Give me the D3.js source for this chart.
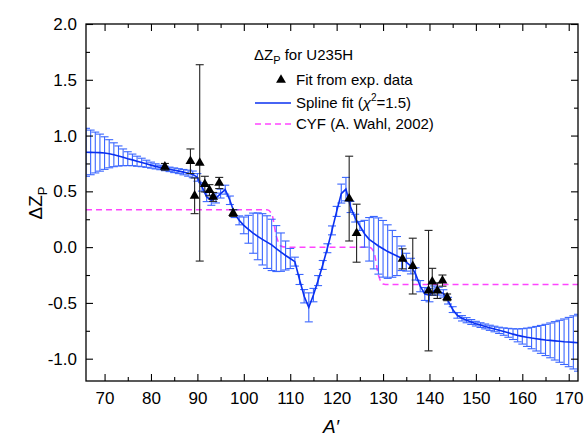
<!DOCTYPE html>
<html><head><meta charset="utf-8">
<script src="https://cdn.jsdelivr.net/npm/d3@7"></script>
<style>body{margin:0;background:#fff}svg{display:block;font-family:Arial,"Liberation Sans",sans-serif}</style>
</head><body><svg id="c" width="586" height="439"></svg>
<script>
// Spline fit (evaluated at integer A')
const splineA = d3.range(66, 173);
const splineVal = [
 0.850,0.849,0.848,0.847,0.843,0.837,0.828,0.817,0.805,0.793,
 0.782,0.770,0.759,0.747,0.735,0.724,0.714,0.705,0.697,0.689,
 0.681,0.672,0.663,0.652,0.625,0.540,0.450,0.420,0.440,0.480,
 0.515,0.420,0.300,0.240,0.195,0.160,0.125,0.097,0.070,0.045,
 0.020,-0.013,-0.045,-0.075,-0.102,-0.130,-0.290,-0.440,-0.540,-0.430,
 -0.300,-0.160,-0.010,0.150,0.320,0.480,0.520,0.360,0.260,0.190,
 0.120,0.070,0.040,0.010,-0.015,-0.040,-0.060,-0.080,-0.100,-0.135,
 -0.170,-0.240,-0.350,-0.420,-0.430,-0.390,-0.395,-0.415,-0.480,-0.560,
 -0.612,-0.638,-0.655,-0.671,-0.686,-0.699,-0.711,-0.723,-0.734,-0.746,
 -0.757,-0.768,-0.780,-0.791,-0.800,-0.808,-0.815,-0.821,-0.827,-0.832,
 -0.836,-0.840,-0.844,-0.848,-0.851,-0.854,-0.857
];
const splineErr = [
 0.215,0.200,0.183,0.166,0.146,0.126,0.107,0.090,0.075,0.062,
 0.052,0.045,0.038,0.032,0.027,0.023,0.020,0.020,0.020,0.021,
 0.022,0.024,0.027,0.030,0.034,0.038,0.042,0.045,0.044,0.040,
 0.040,0.038,0.035,0.040,0.075,0.125,0.180,0.210,0.230,0.236,
 0.230,0.206,0.172,0.130,0.090,0.040,0.045,0.060,0.130,0.060,
 0.045,0.040,0.040,0.040,0.045,0.085,0.105,0.050,0.035,0.040,
 0.120,0.195,0.235,0.252,0.254,0.240,0.210,0.175,0.110,0.080,
 0.070,0.055,0.050,0.058,0.060,0.042,0.035,0.033,0.030,0.026,
 0.025,0.024,0.023,0.022,0.021,0.021,0.022,0.023,0.025,0.028,
 0.033,0.040,0.048,0.058,0.069,0.082,0.096,0.110,0.125,0.140,
 0.156,0.172,0.188,0.204,0.221,0.238,0.255
];
// Fit from experimental data
const expA   = [83.0, 88.5, 89.4, 90.5, 91.6, 92.6, 93.4, 94.7, 97.7, 122.7, 124.3, 134.2, 136.4, 139.8, 140.6, 141.7, 142.8, 143.8];
const expVal = [0.72, 0.77, 0.46, 0.755, 0.565, 0.51, 0.45, 0.575, 0.305, 0.435, 0.125, -0.105, -0.17, -0.39, -0.31, -0.39, -0.30, -0.45];
const expErr = [0.03, 0.11, 0.16, 0.88, 0.07, 0.05, 0.04, 0.05, 0.03, 0.38, 0.26, 0.09, 0.25, 0.54, 0.12, 0.07, 0.05, 0.03];
// CYF (A. Wahl, 2002)
const cyfA   = [66, 105, 106, 107, 108, 109, 127, 128, 129, 130, 131, 172];
const cyfVal = [0.335, 0.335, 0.30, 0.10, 0.01, 0.0, 0.0, -0.04, -0.25, -0.33, -0.335, -0.335];

const xTicks = [70, 80, 90, 100, 110, 120, 130, 140, 150, 160, 170];
const xMinor = [75, 85, 95, 105, 115, 125, 135, 145, 155, 165];
const yTicks = [-1.0, -0.5, 0.0, 0.5, 1.0, 1.5, 2.0];
const yMinor = [-0.75, -0.25, 0.25, 0.75, 1.25, 1.75];

const svg = d3.select("#c");
const L = 86, R = 578, T = 24, B = 381;
const x = d3.scaleLinear().domain([66, 172]).range([L, R]);
const y = d3.scaleLinear().domain([-1.2, 2.0]).range([B, T]);

const BLUE = "#0a30f0", BAR = "#3a66ff", PINK = "#ff44ff";

svg.append("defs").append("clipPath").attr("id", "clip")
  .append("rect").attr("x", L).attr("y", T).attr("width", R - L).attr("height", B - T);
const plot = svg.append("g").attr("clip-path", "url(#clip)");

// CYF dashed
plot.append("path")
  .datum(cyfA.map((a, i) => [a, cyfVal[i]]))
  .attr("fill", "none").attr("stroke", PINK).attr("stroke-width", 1.5)
  .attr("stroke-dasharray", "6,4")
  .attr("d", d3.line().x(d => x(d[0])).y(d => y(d[1])).curve(d3.curveMonotoneX));

// spline error bars
const sp = splineA.map((a, i) => ({a, v: splineVal[i], e: splineErr[i]}));
const cap = 4;
const sb = plot.append("g").attr("stroke", BAR).attr("stroke-width", 1.1);
sp.forEach(d => {
  const xx = x(d.a), y1 = y(d.v + d.e), y2 = y(d.v - d.e);
  sb.append("line").attr("x1", xx).attr("x2", xx).attr("y1", y1).attr("y2", y2);
  sb.append("line").attr("x1", xx - cap).attr("x2", xx + cap).attr("y1", y1).attr("y2", y1);
  sb.append("line").attr("x1", xx - cap).attr("x2", xx + cap).attr("y1", y2).attr("y2", y2);
});
// spline line
plot.append("path").datum(sp)
  .attr("fill", "none").attr("stroke", BLUE).attr("stroke-width", 1.6)
  .attr("d", d3.line().x(d => x(d.a)).y(d => y(d.v)));

// experimental error bars + triangles
const ex = expA.map((a, i) => ({a, v: expVal[i], e: expErr[i]}));
const eb = plot.append("g").attr("stroke", "#222").attr("stroke-width", 1.1);
ex.forEach(d => {
  const xx = x(d.a), y1 = y(d.v + d.e), y2 = y(d.v - d.e);
  eb.append("line").attr("x1", xx).attr("x2", xx).attr("y1", y1).attr("y2", y2);
  eb.append("line").attr("x1", xx - 4).attr("x2", xx + 4).attr("y1", y1).attr("y2", y1);
  eb.append("line").attr("x1", xx - 4).attr("x2", xx + 4).attr("y1", y2).attr("y2", y2);
});
const tri = d3.symbol().type(d3.symbolTriangle).size(42);
plot.append("g").selectAll("path").data(ex).join("path")
  .attr("d", tri).attr("fill", "#000")
  .attr("transform", d => `translate(${x(d.a)},${y(d.v)})`);

// axes
const fmt = d => d.toFixed(1);
function styleAxis(g) {
  g.select(".domain").remove();
  g.selectAll("line").attr("stroke", "#000").attr("stroke-width", 1.1);
  g.selectAll("text").attr("fill", "#000").attr("font-size", 17)
   .attr("font-family", "Arial, 'Liberation Sans', sans-serif");
}
svg.append("g").attr("transform", `translate(0,${B})`)
  .call(d3.axisBottom(x).tickValues(xTicks).tickSize(-7).tickPadding(11).tickFormat(d3.format("d")))
  .call(styleAxis);
svg.append("g").attr("transform", `translate(0,${B})`)
  .call(d3.axisBottom(x).tickValues(xMinor).tickSize(-4).tickFormat("")).call(styleAxis);
svg.append("g").attr("transform", `translate(0,${T})`)
  .call(d3.axisTop(x).tickValues(xTicks).tickSize(-7).tickFormat("")).call(styleAxis);
svg.append("g").attr("transform", `translate(0,${T})`)
  .call(d3.axisTop(x).tickValues(xMinor).tickSize(-4).tickFormat("")).call(styleAxis);
svg.append("g").attr("transform", `translate(${L},0)`)
  .call(d3.axisLeft(y).tickValues(yTicks).tickSize(-7).tickPadding(9).tickFormat(fmt))
  .call(styleAxis);
svg.append("g").attr("transform", `translate(${L},0)`)
  .call(d3.axisLeft(y).tickValues(yMinor).tickSize(-4).tickFormat("")).call(styleAxis);
svg.append("g").attr("transform", `translate(${R},0)`)
  .call(d3.axisRight(y).tickValues(yTicks).tickSize(-7).tickFormat("")).call(styleAxis);
svg.append("g").attr("transform", `translate(${R},0)`)
  .call(d3.axisRight(y).tickValues(yMinor).tickSize(-4).tickFormat("")).call(styleAxis);

svg.append("rect").attr("x", L).attr("y", T).attr("width", R - L).attr("height", B - T)
  .attr("fill", "none").attr("stroke", "#000").attr("stroke-width", 1.3);

// axis titles
const yt = svg.append("text").attr("transform", "translate(42,203) rotate(-90)")
  .attr("text-anchor", "middle").attr("font-size", 19).attr("fill", "#000");
yt.append("tspan").text("ΔZ");
yt.append("tspan").attr("font-size", 13).attr("dy", 5).text("P");
svg.append("text").attr("x", 331).attr("y", 433).attr("text-anchor", "middle")
  .attr("font-size", 19).attr("font-style", "italic").attr("fill", "#000").text("A′");

// legend
const lg = svg.append("g").attr("font-size", 15).attr("fill", "#000");
const t1 = lg.append("text").attr("x", 254).attr("y", 60);
t1.append("tspan").text("ΔZ");
t1.append("tspan").attr("font-size", 11).attr("dy", 4).text("P");
t1.append("tspan").attr("dy", -4).text(" for U235H");
lg.append("path").attr("d", tri).attr("fill", "#000").attr("transform", "translate(281,80)");
lg.append("text").attr("x", 296).attr("y", 85).text("Fit from exp. data");
lg.append("line").attr("x1", 255).attr("x2", 291).attr("y1", 103).attr("y2", 103)
  .attr("stroke", BLUE).attr("stroke-width", 1.6);
const t3 = lg.append("text").attr("x", 296).attr("y", 108);
t3.append("tspan").text("Spline fit (");
t3.append("tspan").attr("font-style", "italic").text("χ");
t3.append("tspan").attr("font-size", 10).attr("dy", -7).text("2");
t3.append("tspan").attr("dy", 7).text("=1.5)");
lg.append("line").attr("x1", 255).attr("x2", 291).attr("y1", 124).attr("y2", 124)
  .attr("stroke", PINK).attr("stroke-width", 1.5).attr("stroke-dasharray", "6,4");
lg.append("text").attr("x", 296).attr("y", 129).text("CYF (A. Wahl, 2002)");
</script></body></html>
